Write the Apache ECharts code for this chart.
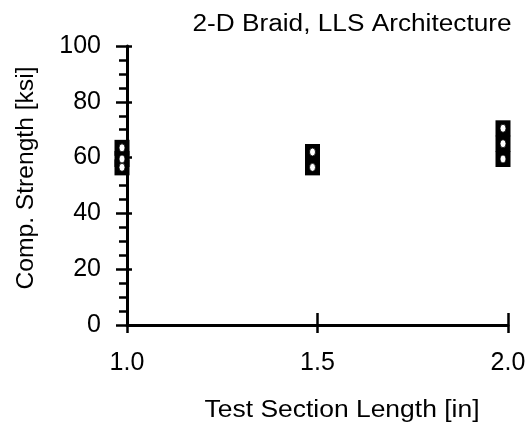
<!DOCTYPE html>
<html>
<head>
<meta charset="utf-8">
<script src="https://cdn.jsdelivr.net/npm/echarts@6/dist/echarts.min.js"></script>
<style>
  html, body { margin: 0; padding: 0; background: #fff; }
  #chart { width: 528px; height: 428px; }
</style>
</head>
<body>
<div id="chart"></div>
<script>
const chartTitle = '2-D Braid, LLS Architecture'
const xTitle = 'Test Section Length [in]'
const yTitle = 'Comp. Strength [ksi]'

// test section length [in] and compressive strength [ksi]
const lengths = [1.0, 1.0, 1.0, 1.5, 1.5, 2.0, 2.0, 2.0]
const strengths = [63.5, 59.5, 56.5, 62, 56.5, 70.5, 65, 59.5]

const xTicks = { min: 1.0, max: 2.0, step: 0.5 }
const yTicks = { min: 0, max: 100, step: 20 }

const points = lengths.map((x, i) => [x, strengths[i]])
const font = 'Liberation Sans, Arial, Helvetica, sans-serif'
const ink = '#000'

const chart = echarts.init(document.getElementById('chart'))

const option = {
  animation: false,
  backgroundColor: '#fff',
  grid: { left: 127, right: 20, top: 46, bottom: 103, outerBoundsMode: 'none' },
  xAxis: [
    {
      type: 'value',
      min: xTicks.min, max: xTicks.max, interval: xTicks.step,
      axisLine: { lineStyle: { color: ink, width: 3 } },
      axisTick: { length: 8, lineStyle: { color: ink, width: 2.5 } },
      axisLabel: { color: ink, fontSize: 25, fontFamily: font, margin: 26,
        formatter: v => v.toFixed(1) },
      splitLine: { show: false }
    },
    {
      type: 'value', position: 'bottom',
      min: xTicks.min, max: xTicks.max, interval: xTicks.step,
      axisLine: { show: false },
      axisTick: { inside: true, length: 12, lineStyle: { color: ink, width: 2.5 } },
      axisLabel: { show: false },
      splitLine: { show: false }
    }
  ],
  yAxis: [
    {
      type: 'value',
      min: yTicks.min, max: yTicks.max, interval: yTicks.step,
      axisLine: { lineStyle: { color: ink, width: 3 } },
      axisTick: { length: 11, lineStyle: { color: ink, width: 2.5 } },
      minorTick: { show: true, splitNumber: 4, length: 8, lineStyle: { color: ink, width: 2.5 } },
      axisLabel: { color: ink, fontSize: 25, fontFamily: font, margin: 26 },
      splitLine: { show: false },
      minorSplitLine: { show: false }
    },
    {
      type: 'value', position: 'left',
      min: yTicks.min, max: yTicks.max, interval: yTicks.step,
      axisLine: { show: false },
      axisTick: { inside: true, length: 5, lineStyle: { color: ink, width: 2.5 } },
      axisLabel: { show: false },
      splitLine: { show: false }
    }
  ],
  graphic: [
    {
      type: 'text', x: 352, y: 25, scaleX: 1.14,
      style: { text: chartTitle, font: '23px ' + font, fill: ink, align: 'center', verticalAlign: 'middle' }
    },
    {
      type: 'text', x: 342, y: 411, scaleX: 1.15,
      style: { text: xTitle, font: '23px ' + font, fill: ink, align: 'center', verticalAlign: 'middle' }
    },
    {
      type: 'text', x: 27, y: 178, rotation: Math.PI / 2, scaleX: 1.07,
      style: { text: yTitle, font: '23px ' + font, fill: ink, align: 'center', verticalAlign: 'middle' }
    }
  ],
  series: [
    {
      type: 'scatter',
      data: points,
      symbol: 'rect',
      symbolSize: [15, 16],
      symbolOffset: [-5, 0],
      itemStyle: { color: ink, opacity: 1 },
      z: 3
    },
    {
      type: 'scatter',
      data: points,
      symbol: 'circle',
      symbolSize: [6, 8],
      symbolOffset: [-5, 0],
      itemStyle: { color: '#fff', borderColor: ink, borderWidth: 0.8, opacity: 1 },
      z: 4
    }
  ]
}

chart.setOption(option)
</script>
</body>
</html>
